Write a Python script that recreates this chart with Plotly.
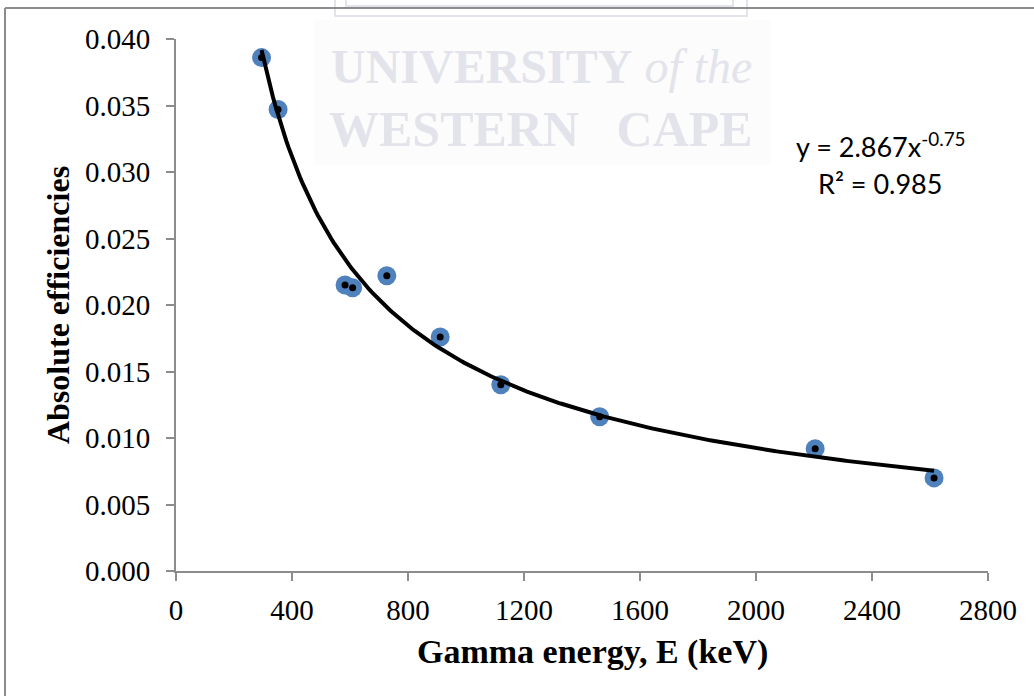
import numpy as np
import plotly.graph_objects as go

# Measured absolute efficiencies at gamma-ray energies
energy_kev = [295, 352, 583, 609, 727, 911, 1120, 1461, 2204, 2614]
efficiency = [0.0386, 0.0347, 0.0215, 0.0213, 0.0222, 0.0176, 0.0140, 0.0116, 0.0092, 0.0070]

# Power-law trend y = a * x^b
trend_a = 2.867
trend_b = -0.7549
r_squared = 0.985

x_ticks = [0, 400, 800, 1200, 1600, 2000, 2400, 2800]
y_ticks = [0.000, 0.005, 0.010, 0.015, 0.020, 0.025, 0.030, 0.035, 0.040]

W_FIG, H_FIG = 1034, 696
L, T, R, B = 176, 39, 46, 125
PW, PH = W_FIG - L - R, H_FIG - T - B


def px(x):
    return (x - L) / PW


def py(y):
    return (T + PH - y) / PH


xs = np.linspace(min(energy_kev), max(energy_kev), 300)
ys = trend_a * xs ** trend_b

fig = go.Figure()

fig.add_trace(go.Scatter(
    x=energy_kev, y=efficiency, mode="markers",
    marker=dict(size=19, color="#4F81BD", line=dict(width=0)),
    showlegend=False, hoverinfo="skip",
))
fig.add_trace(go.Scatter(
    x=xs, y=ys, mode="lines",
    line=dict(color="black", width=4),
    showlegend=False, hoverinfo="skip",
))
fig.add_trace(go.Scatter(
    x=energy_kev, y=efficiency, mode="markers",
    marker=dict(size=7, color="black", line=dict(width=0)),
    showlegend=False,
))

grey = "#8c8c8c"
wm = "#e3e4eb"

shapes = [
    # outer frame (left and top edges)
    dict(type="line", xref="paper", yref="paper", x0=px(5), x1=px(5), y0=py(8), y1=py(H_FIG + 5),
         line=dict(color=grey, width=2), layer="above"),
    dict(type="line", xref="paper", yref="paper", x0=px(5), x1=px(W_FIG + 5), y0=py(8), y1=py(8),
         line=dict(color=grey, width=2), layer="above"),
    # faint crest backdrop
    dict(type="rect", xref="paper", yref="paper", x0=px(314), x1=px(770), y0=py(20), y1=py(165),
         fillcolor="#fcfcfc", line=dict(width=0), layer="below"),
    dict(type="rect", xref="paper", yref="paper", x0=px(335), x1=px(747), y0=py(-5), y1=py(16),
         fillcolor="rgba(0,0,0,0)", line=dict(color=wm, width=2), layer="below"),
    dict(type="rect", xref="paper", yref="paper", x0=px(346), x1=px(733), y0=py(-5), y1=py(6),
         fillcolor="rgba(0,0,0,0)", line=dict(color=wm, width=2), layer="below"),
]

annotations = [
    dict(xref="paper", yref="paper", x=px(541), y=py(66), xanchor="center", yanchor="middle",
         text="<b>UNIVERSITY</b> <i>of the</i>", showarrow=False,
         font=dict(family="Liberation Serif", size=48, color=wm)),
    dict(xref="paper", yref="paper", x=px(541), y=py(129), xanchor="center", yanchor="middle",
         text="<b>WESTERN   CAPE</b>", showarrow=False,
         font=dict(family="Liberation Serif", size=50, color=wm)),
    dict(xref="paper", yref="paper", x=px(881), y=py(145), xanchor="center", yanchor="middle",
         text=f"y = {trend_a:.3f}x<sup>{trend_b:.2f}</sup>", showarrow=False,
         font=dict(family="Lato", size=27, color="black")),
    dict(xref="paper", yref="paper", x=px(880), y=py(183), xanchor="center", yanchor="middle",
         text=f"R² = {r_squared:.3f}", showarrow=False,
         font=dict(family="Lato", size=27, color="black")),
    # x-axis title
    dict(xref="paper", yref="paper", x=px(592), y=py(652), xanchor="center", yanchor="middle",
         text="<b>Gamma energy, E (keV)</b>", showarrow=False,
         font=dict(family="Liberation Serif", size=34, color="black")),
]

fig.update_layout(
    width=W_FIG, height=H_FIG,
    margin=dict(l=L, r=R, t=T, b=B, pad=0),
    paper_bgcolor="white", plot_bgcolor="white",
    shapes=shapes, annotations=annotations,
    xaxis=dict(
        range=[0, 2800], tickvals=x_ticks, ticktext=[str(v) for v in x_ticks],
        showgrid=False, zeroline=False, showline=True, linecolor=grey, linewidth=2,
        ticks="outside", ticklen=8, tickcolor=grey, tickwidth=2,
        ticklabelstandoff=4,
        tickfont=dict(family="Liberation Serif", size=29, color="black"),
    ),
    yaxis=dict(
        range=[0, 0.040], tickvals=y_ticks, ticktext=[f"{v:.3f}" for v in y_ticks],
        showgrid=False, zeroline=False, showline=True, linecolor=grey, linewidth=2,
        ticks="outside", ticklen=8, tickcolor=grey, tickwidth=2,
        ticklabelstandoff=10,
        tickfont=dict(family="Liberation Serif", size=29, color="black"),
        title=dict(text="<b>Absolute efficiencies</b>", standoff=6,
                   font=dict(family="Liberation Serif", size=32, color="black")),
    ),
)

fig.write_html("out.html")
